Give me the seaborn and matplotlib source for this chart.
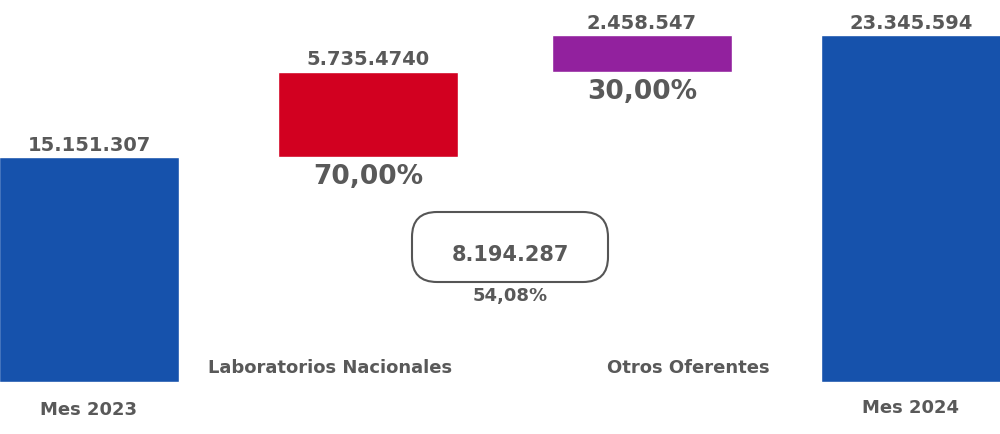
import matplotlib
matplotlib.use("Agg")
import matplotlib.pyplot as plt
import seaborn as sns
import pandas as pd
from matplotlib.patches import FancyBboxPatch

categories = ["Mes 2023", "Laboratorios Nacionales", "Otros Oferentes", "Mes 2024"]
values = [15151307, 5735474, 2458547, 23345594]
value_labels = ["15.151.307", "5.735.4740", "2.458.547", "23.345.594"]
pct_labels = ["", "70,00%", "30,00%", ""]
total_change = "8.194.287"
total_pct = "54,08%"

bottoms = [0, values[0], values[0] + values[1], 0]
colors = ["#1652AC", "#D20020", "#92219E", "#1652AC"]
xpos = [89, 368, 642, 911]
width = 180
gray = "#595959"

sns.set_theme(style="white")
plt.rcParams["font.family"] = "DejaVu Sans"
fig = plt.figure(figsize=(10, 4.34), dpi=100)
ax = fig.add_axes([0, 0, 1, 1])
df = pd.DataFrame({"cat": categories, "val": values, "bottom": bottoms, "x": xpos})
for i, r in df.iterrows():
    ax.bar(r["x"], r["val"], bottom=r["bottom"], width=width, color=colors[i])
    top = r["bottom"] + r["val"]
    ax.text(r["x"], top + 150000, value_labels[i], ha="center", va="bottom",
            fontsize=14, fontweight="bold", color=gray)
    if pct_labels[i]:
        ax.text(r["x"], r["bottom"] - 500000, pct_labels[i], ha="center", va="top",
                fontsize=19, fontweight="bold", color=gray)

ax.set_xlim(0, 1000)
ax.set_ylim(-3.5e6, 25.7e6)
px = 29.2e6 / 434
def yp(p):  # pixel from top -> data
    return 25.7e6 - p * px

box = FancyBboxPatch((412, yp(282)), 196, yp(212) - yp(282),
                     boxstyle="round,pad=0,rounding_size=25", mutation_aspect=px,
                     fc="white", ec="#555555", lw=1.5)
ax.add_patch(box)
ax.text(510, yp(255), total_change, ha="center", va="center", fontsize=15, fontweight="bold", color=gray)
ax.text(510, yp(296), total_pct, ha="center", va="center", fontsize=13, fontweight="bold", color=gray)
ax.text(330, yp(368), categories[1], ha="center", va="center", fontsize=13, fontweight="bold", color=gray)
ax.text(688, yp(368), categories[2], ha="center", va="center", fontsize=13, fontweight="bold", color=gray)
ax.text(89, yp(410), categories[0], ha="center", va="center", fontsize=13, fontweight="bold", color=gray)
ax.text(911, yp(408), categories[3], ha="center", va="center", fontsize=13, fontweight="bold", color=gray)
ax.axis("off")
fig.savefig("out.png", dpi=100)
